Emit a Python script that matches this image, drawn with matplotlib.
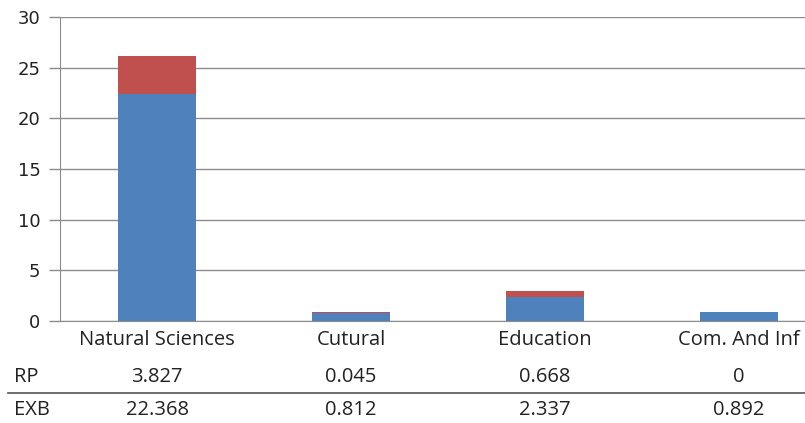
import matplotlib
matplotlib.use("Agg")
import matplotlib.pyplot as plt
from matplotlib.transforms import blended_transform_factory
from matplotlib.lines import Line2D

categories = ["Natural Sciences", "Cutural", "Education", "Com. And Inf"]
rp = [3.827, 0.045, 0.668, 0]
exb = [22.368, 0.812, 2.337, 0.892]
rp_labels = ["3.827", "0.045", "0.668", "0"]
exb_labels = ["22.368", "0.812", "2.337", "0.892"]
yticks = [0, 5, 10, 15, 20, 25, 30]

W, H = 805, 423
fig = plt.figure(figsize=(W / 100, H / 100), dpi=100)
ax = fig.add_axes([60 / W, (H - 321) / H, (W - 60) / W, (321 - 17) / H])

blue = "#4F81BD"
red = "#C0504D"
grid = "#8C8C8C"

x = list(range(len(categories)))
ax.bar(x, exb, width=0.4, color=blue, zorder=3)
ax.bar(x, rp, width=0.4, bottom=exb, color=red, zorder=3)

ax.set_ylim(0, 30)
ax.set_xlim(-0.5, -0.5 + (W - 60) / 194)
ax.set_yticks(yticks)
ax.set_yticklabels([str(t) for t in yticks], fontsize=13, family="DejaVu Sans", color="#222222")
ax.yaxis.grid(True, color=grid, linewidth=1, zorder=0)
ax.tick_params(axis="y", length=8, color=grid, width=1, pad=6)
ax.set_xticks([])
for s in ["top", "right"]:
    ax.spines[s].set_visible(False)
ax.spines["left"].set_color(grid)
ax.spines["bottom"].set_color(grid)

tr = blended_transform_factory(ax.transData, fig.transFigure)
font = dict(family="Open Sans", fontsize=14.5, color="#222222")
for i, c in enumerate(categories):
    fig.text(i, 1 - 340 / H, c, transform=tr, ha="center", va="center", **font)
    fig.text(i, 1 - 377 / H, rp_labels[i], transform=tr, ha="center", va="center", **font)
    fig.text(i, 1 - 410 / H, exb_labels[i], transform=tr, ha="center", va="center", **font)
fig.text(14 / W, 1 - 377 / H, "RP", ha="left", va="center", **font)
fig.text(14 / W, 1 - 410 / H, "EXB", ha="left", va="center", **font)

fig.add_artist(Line2D([8 / W, 1], [1 - 393 / H, 1 - 393 / H], transform=fig.transFigure,
                      color="#555555", linewidth=1.2))

fig.savefig("out.png", dpi=100)
